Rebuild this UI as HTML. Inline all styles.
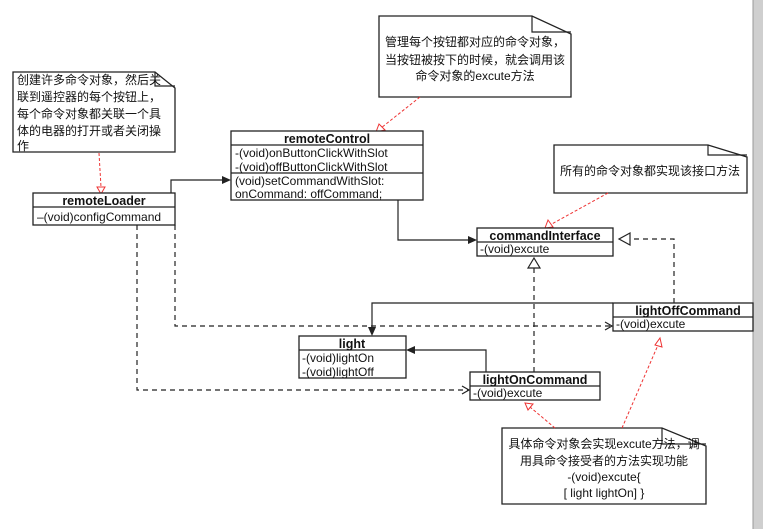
<!DOCTYPE html>
<html><head><meta charset="utf-8"><style>
html,body{margin:0;padding:0;background:#fff}
svg{display:block}
text{font-family:"Liberation Sans","Noto Sans CJK SC",sans-serif;font-size:12px;fill:#111}
.b{font-weight:bold;font-size:12.5px}
.box{fill:#fff;stroke:#222;stroke-width:1.3}
.ln{stroke:#222;stroke-width:1.2;fill:none}
.d{stroke:#222;stroke-width:1.2;fill:none;stroke-dasharray:5,4}
.r{stroke:#e33;stroke-width:1;fill:none;stroke-dasharray:3,2}
</style></head><body>
<svg width="763" height="529" viewBox="0 0 763 529" xmlns="http://www.w3.org/2000/svg">
<rect x="753" y="0" width="10" height="529" fill="#cfcfcf"/>
<line x1="753" y1="0" x2="753" y2="529" stroke="#999"/>

<!-- Notes -->
<g filter="none">
<path class="box" d="M13 72 H155 L175 88 V152 H13 Z"/>
<path class="ln" d="M155 72 V86 H175"/>
<text x="17" y="84">创建许多命令对象，然后关</text>
<text x="17" y="101">联到遥控器的每个按钮上，</text>
<text x="17" y="118">每个命令对象都关联一个具</text>
<text x="17" y="135">体的电器的打开或者关闭操</text>
<text x="17" y="150">作</text>

<path class="box" d="M379 16 H532 L571 34 V97 H379 Z"/>
<path class="ln" d="M532 16 V32 H571"/>
<text x="475" y="46" text-anchor="middle">管理每个按钮都对应的命令对象，</text>
<text x="475" y="64" text-anchor="middle">当按钮被按下的时候，就会调用该</text>
<text x="475" y="80" text-anchor="middle">命令对象的excute方法</text>

<path class="box" d="M554 145 H708 L747 157 V193 H554 Z"/>
<path class="ln" d="M708 145 V155 H747"/>
<text x="650" y="175" text-anchor="middle">所有的命令对象都实现该接口方法</text>

<path class="box" d="M502 428 H662 L706 446 V504 H502 Z"/>
<path class="ln" d="M662 428 V444 H706"/>
<text x="604" y="448" text-anchor="middle">具体命令对象会实现excute方法，调</text>
<text x="604" y="465" text-anchor="middle">用具命令接受者的方法实现功能</text>
<text x="604" y="481" text-anchor="middle">-(void)excute{</text>
<text x="604" y="497" text-anchor="middle">[ light lightOn] }</text>
</g>

<!-- red dashed connectors -->
<path class="r" d="M99 153 L101 187"/>
<path d="M97 187 L105 187 L101 194 Z" fill="#fff" stroke="#e33"/>
<path class="r" d="M420 97 L381 128"/>
<path d="M376 132 L379 124 L385 130 Z" fill="#fff" stroke="#e33"/>
<path class="r" d="M608 193 L550 225"/>
<path d="M545 228 L548 220 L553 227 Z" fill="#fff" stroke="#e33"/>
<path class="r" d="M555 428 L530 407"/>
<path d="M525 403 L533 404 L528 410 Z" fill="#fff" stroke="#e33"/>
<path class="r" d="M622 428 L658 345"/>
<path d="M660 338 L662 347 L655 345 Z" fill="#fff" stroke="#e33"/>

<!-- solid connectors -->
<path class="ln" d="M171 193 V180 H224"/>
<path d="M231 180 L222 176 L222 184 Z" fill="#222"/>
<path class="ln" d="M398 200 V240 H470"/>
<path d="M477 240 L468 236 L468 244 Z" fill="#222"/>
<path class="ln" d="M613 303 H372 V329"/>
<path d="M372 336 L368 327 L376 327 Z" fill="#222"/>
<path class="ln" d="M486 372 V350 H413"/>
<path d="M406 350 L415 346 L415 354 Z" fill="#222"/>

<!-- dashed -->
<path class="d" d="M534 372 V268"/>
<path d="M528 268 L534 258 L540 268 Z" fill="#fff" stroke="#222" stroke-width="1.2"/>
<path class="d" d="M674 303 V239 H630"/>
<path d="M630 233 L619 239 L630 245 Z" fill="#fff" stroke="#222" stroke-width="1.2"/>
<path class="d" d="M137 225 V390 H468"/>
<path class="ln" d="M462 386 L469 390 L462 394"/>
<path class="d" d="M175 225 V326 H611"/>
<path class="ln" d="M605 322 L612 326 L605 330"/>

<!-- classes -->
<rect class="box" x="231" y="131" width="192" height="69"/>
<line class="ln" x1="231" y1="145" x2="423" y2="145"/>
<line class="ln" x1="231" y1="173" x2="423" y2="173"/>
<text class="b" x="327" y="143" text-anchor="middle">remoteControl</text>
<text x="235" y="157">-(void)onButtonClickWithSlot</text>
<text x="235" y="171">-(void)offButtonClickWithSlot</text>
<text x="235" y="185">(void)setCommandWithSlot:</text>
<text x="235" y="198">onCommand: offCommand;</text>

<rect class="box" x="33" y="193" width="142" height="32"/>
<line class="ln" x1="33" y1="207" x2="175" y2="207"/>
<text class="b" x="104" y="205" text-anchor="middle">remoteLoader</text>
<text x="37" y="221">–(void)configCommand</text>

<rect class="box" x="477" y="228" width="136" height="28"/>
<line class="ln" x1="477" y1="242" x2="613" y2="242"/>
<text class="b" x="545" y="240" text-anchor="middle">commandInterface</text>
<text x="480" y="253">-(void)excute</text>

<rect class="box" x="613" y="303" width="140" height="28"/>
<line class="ln" x1="613" y1="317" x2="753" y2="317"/>
<text class="b" x="688" y="315" text-anchor="middle">lightOffCommand</text>
<text x="616" y="328">-(void)excute</text>

<rect class="box" x="299" y="336" width="107" height="42"/>
<line class="ln" x1="299" y1="350" x2="406" y2="350"/>
<text class="b" x="352" y="348" text-anchor="middle">light</text>
<text x="302" y="362">-(void)lightOn</text>
<text x="302" y="376">-(void)lightOff</text>

<rect class="box" x="470" y="372" width="130" height="28"/>
<line class="ln" x1="470" y1="386" x2="600" y2="386"/>
<text class="b" x="535" y="384" text-anchor="middle">lightOnCommand</text>
<text x="473" y="397">-(void)excute</text>
</svg>
</body></html>
